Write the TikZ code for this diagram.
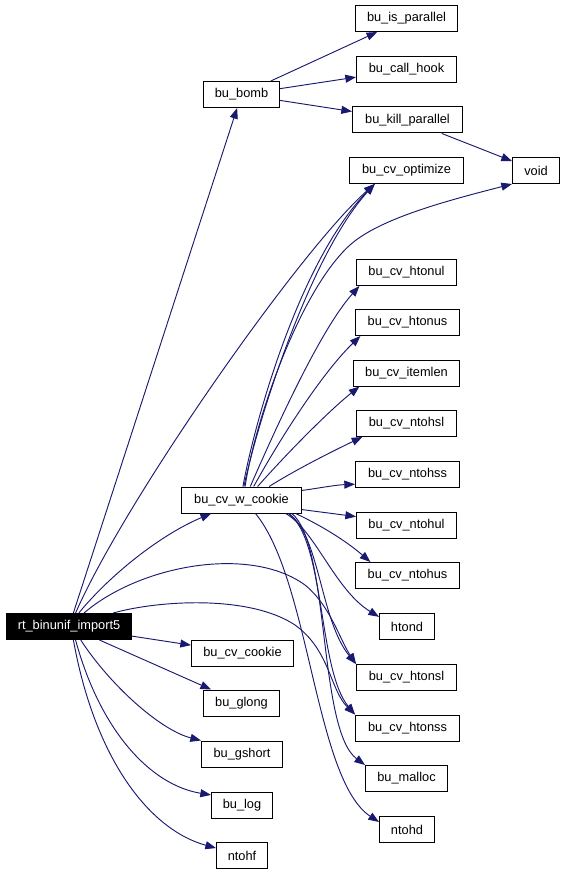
\documentclass[tikz,border=0pt]{standalone}
\usepackage{fontspec}
\setmainfont{Liberation Sans}
\usetikzlibrary{arrows.meta,positioning}
\definecolor{edgecol}{HTML}{191970}

\begin{document}
\begin{tikzpicture}[x=0.75pt,y=-0.75pt,->,>={Triangle[length=8pt,width=6pt]},
    fn/.style={draw,line width=.75pt,minimum height=19.5pt,minimum width=#1*0.75pt,inner sep=0pt,font=\fontsize{9.6}{11}\selectfont},
    call/.style={edgecol,line width=.7pt}]
    \useasboundingbox (0,0) rectangle (565,873);

    % callers on the left
    \node[fn=125,fill=black,text=white] (rt) at (69,626.5) {rt\_binunif\_import5};
    \node[fn=76] (bomb) at (241.5,94.5) {bu\_bomb};
    \node[fn=120] (wck) at (241.5,500) {bu\_cv\_w\_cookie};
    \node[fn=102] (ck) at (242.5,653) {bu\_cv\_cookie};
    \node[fn=76] (glong) at (241.5,703) {bu\_glong};
    \node[fn=81] (gshort) at (242,754) {bu\_gshort};
    \node[fn=61] (log) at (242,805) {bu\_log};
    \node[fn=51] (ntohf) at (242,855.5) {ntohf};

    % right column
    \node[fn=102] (ispar) at (406.5,18.5) {bu\_is\_parallel};
    \node[fn=100] (hook) at (406.5,69.5) {bu\_call\_hook};
    \node[fn=110] (kill) at (407.5,120) {bu\_kill\_parallel};
    \node[fn=114] (opt) at (406.5,170.5) {bu\_cv\_optimize};
    \node[fn=47] (void) at (536,170.5) {void};
    \node[fn=100] (htonul) at (406.5,272.5) {bu\_cv\_htonul};
    \node[fn=104] (htonus) at (407.5,322.5) {bu\_cv\_htonus};
    \node[fn=106] (itemlen) at (406.5,373) {bu\_cv\_itemlen};
    \node[fn=100] (ntohsl) at (406.5,423.5) {bu\_cv\_ntohsl};
    \node[fn=104] (ntohss) at (407.5,474) {bu\_cv\_ntohss};
    \node[fn=100] (ntohul) at (406.5,525.5) {bu\_cv\_ntohul};
    \node[fn=104] (ntohus) at (407.5,575.5) {bu\_cv\_ntohus};
    \node[fn=55] (htond) at (407,626.5) {htond};
    \node[fn=100] (htonsl) at (406.5,677.5) {bu\_cv\_htonsl};
    \node[fn=104] (htonss) at (407.5,728) {bu\_cv\_htonss};
    \node[fn=82] (malloc) at (406.5,778.5) {bu\_malloc};
    \node[fn=55] (ntohd) at (407,829.5) {ntohd};

    \path[call]
        (rt) edge (bomb) edge (ck) edge (glong)
        (bomb) edge (ispar) edge (hook) edge (kill)
        (kill) edge (void)
        (wck.-9) edge (ntohul.170);

    % rt_binunif_import5
    \draw[call] (rt.64) .. controls (125,500) and (300,250) .. (opt.203);
    \draw[call] (rt.54) .. controls (110,575) and (160,535) .. (wck.204);
    \draw[call] (rt.42) .. controls (140,565) and (250,545) .. (305,585) .. controls (330,605) and (340,640) .. (htonsl.north west);
    \draw[call] (rt.17) .. controls (160,600) and (250,595) .. (295,625) .. controls (330,650) and (330,690) .. (htonss.north west);
    \draw[call] (rt.-49) .. controls (110,685) and (160,730) .. (gshort.north west);
    \draw[call] (rt.-64) .. controls (100,730) and (150,785) .. (log.162);
    \draw[call] (rt.-72) .. controls (95,760) and (150,830) .. (ntohf.164);

    % bu_cv_w_cookie
    \draw[call] (wck.84) .. controls (255,420) and (300,260) .. (opt.203);
    \draw[call] (wck.80) .. controls (258,420) and (310,255) .. (opt.203);
    \draw[call] (wck.75) .. controls (255,420) and (300,290) .. (350,245) .. controls (380,218) and (450,200) .. (void.south west);
    \draw[call] (wck.57) .. controls (275,430) and (320,330) .. (htonul.196);
    \draw[call] (wck.48) .. controls (285,430) and (325,370) .. (htonus.196);
    \draw[call] (wck.40) .. controls (290,450) and (330,410) .. (itemlen.196);
    \draw[call] (wck.26) .. controls (295,470) and (335,450) .. (ntohsl.197);
    \draw[call] (wck.9) .. controls (320,488) and (335,485) .. (ntohss.191);
    \draw[call] (wck.-14) .. controls (320,525) and (345,540) .. (ntohus.160);
    \draw[call] (wck.-17) .. controls (315,530) and (335,590) .. (htond.161);
    \draw[call] (wck.-16) .. controls (320,535) and (320,620) .. (htonsl.north west);
    \draw[call] (wck.-16) .. controls (325,540) and (318,670) .. (htonss.north west);
    \draw[call] (wck.-15) .. controls (330,545) and (318,730) .. (malloc.north west);
    \draw[call] (wck.-44) .. controls (310,580) and (315,780) .. (ntohd.165);
\end{tikzpicture}
\end{document}
